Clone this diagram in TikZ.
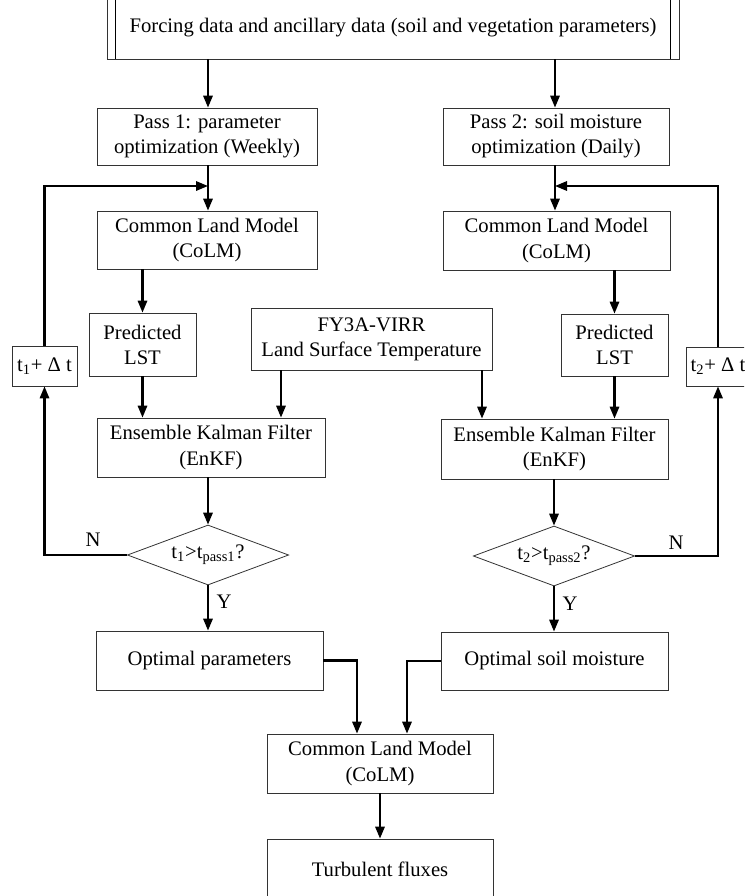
\documentclass[tikz,border=0pt]{standalone}
\usepackage{fontspec}
\setmainfont{Liberation Serif}
\usetikzlibrary{arrows.meta,shapes.geometric,fit}

\tikzset{
  txt/.style={font=\fontsize{15.5pt}{18.8pt}\selectfont},
  boxtext/.style={txt, align=center},
  box/.style={draw=black!80, line width=0.6pt, inner sep=0pt},
  dec/.style={txt, diamond, draw=black!80, line width=0.6pt, inner sep=0pt, aspect=2.7,
    minimum width=121pt, minimum height=45pt},
  lnk/.style={line width=1.6pt},
  arr/.style={lnk, -{Triangle[length=9pt,width=7pt]}},
}

\begin{document}
\begin{tikzpicture}[x=0.75pt,y=0.75pt,yscale=-1,xscale=1]
\useasboundingbox (0,0) rectangle (744,896);
\clip (0,0) rectangle (744,896);

%Shape: Rectangles
\node[box, fit={(107,-3) (679,59)},
  label={[boxtext]center:{Forcing data and ancillary data (soil and vegetation parameters)}}] (forcing) {};
\draw[line width=0.6pt] ([xshift=6.75pt]forcing.north west) -- ([xshift=6.75pt]forcing.south west);
\draw[line width=0.6pt] ([xshift=-6.75pt]forcing.north east) -- ([xshift=-6.75pt]forcing.south east);

\node[box, fit={(97,108) (317,165)}, label={[boxtext]center:{Pass 1: parameter\\optimization (Weekly)}}] (pass1) {};
\node[box, fit={(443,108) (669,165)}, label={[boxtext]center:{Pass 2: soil moisture\\optimization (Daily)}}] (pass2) {};
\node[box, fit={(97,211) (317,269)}, label={[boxtext]center:{Common Land Model\\(CoLM)}}] (colm1) {};
\node[box, fit={(443,211) (670,270)}, label={[boxtext]center:{Common Land Model\\(CoLM)}}] (colm2) {};
\node[box, fit={(89,313) (196,376)}, label={[boxtext]center:{Predicted\\LST}}] (pred1) {};
\node[box, fit={(561,314) (668,376)}, label={[boxtext]center:{Predicted\\LST}}] (pred2) {};
\node[box, fit={(251,308) (492,370)}, label={[boxtext]center:{FY3A-VIRR\\Land Surface Temperature}}] (fy3a) {};
\node[box, fit={(12,346) (77,386)}, label={[boxtext]center:{t\textsubscript{1}+ Δ t}}] (tone) {};
\node[box, fit={(686,347) (750,386)}, label={[boxtext]center:{t\textsubscript{2}+ Δ t}}] (ttwo) {};
\node[box, fit={(97,418) (325,477)}, label={[boxtext]center:{Ensemble Kalman Filter\\(EnKF)}}] (enkf1) {};
\node[box, fit={(441,419) (668,479)}, label={[boxtext]center:{Ensemble Kalman Filter\\(EnKF)}}] (enkf2) {};

%Shape: Diamonds
\node[dec] (chk1) at (208,555) {t\textsubscript{1}>t\textsubscript{pass1}?};
\node[dec] (chk2) at (554,556) {t\textsubscript{2}>t\textsubscript{pass2}?};

\node[box, fit={(96,631) (323,690)}, label={[boxtext]center:{Optimal parameters}}] (opt1) {};
\node[box, fit={(441,632) (668,690)}, label={[boxtext]center:{Optimal soil moisture}}] (opt2) {};
\node[box, fit={(267,734) (493,793)}, label={[boxtext]center:{Common Land Model\\(CoLM)}}] (colm3) {};
\node[box, fit={(267,839) (493,899)}, label={[boxtext]center:{Turbulent fluxes}}] (turb) {};

% helper coordinates
\coordinate (xl) at (208,0);
\coordinate (xr) at (555,0);
\coordinate (joinl) at (208,186);
\coordinate (joinr) at (555,186);
\coordinate (fl) at (281,0);
\coordinate (fr) at (482,0);
\coordinate (ml) at (357,0);
\coordinate (mr) at (407,0);

%Straight Lines
\draw[arr] (forcing.south -| xl) -- (pass1.north -| xl);
\draw[arr] (forcing.south -| xr) -- (pass2.north -| xr);
\draw[arr] (pass1.south -| xl) -- (colm1.north -| xl);
\draw[arr] (pass2.south -| xr) -- (colm2.north -| xr);
\draw[arr] (tone.north) |- (joinl);
\draw[arr] (ttwo.north) |- (joinr);
\draw[arr] (colm1.south -| pred1.north) -- (pred1.north);
\draw[arr] (colm2.south -| pred2.north) -- (pred2.north);
\draw[arr] (pred1.south) -- (enkf1.north -| pred1.south);
\draw[arr] (pred2.south) -- (enkf2.north -| pred2.south);
\draw[arr] (fy3a.south -| fl) -- (enkf1.north -| fl);
\draw[arr] (fy3a.south -| fr) -- (enkf2.north -| fr);
\draw[arr] (enkf1.south -| chk1.north) -- (chk1.north);
\draw[arr] (enkf2.south -| chk2.north) -- (chk2.north);
\draw[arr] (chk1.west) -| (tone.south);
\draw[arr] (chk2.east) -| (ttwo.south);
\draw[arr] (chk1.south) -- (opt1.north -| chk1.south);
\draw[arr] (chk2.south) -- (opt2.north -| chk2.south);
\draw[arr] (opt1.east) -| (ml |- colm3.north);
\draw[arr] (opt2.west) -| (mr |- colm3.north);
\draw[arr] (colm3.south) -- (turb.north);

% Text Node
\node[txt] (nl) at (93,540) {N};
\node[txt] (nr) at (676,543) {N};
\node[txt] (yl) at (224,602) {Y};
\node[txt] (yr) at (570,604) {Y};

\end{tikzpicture}
\end{document}
